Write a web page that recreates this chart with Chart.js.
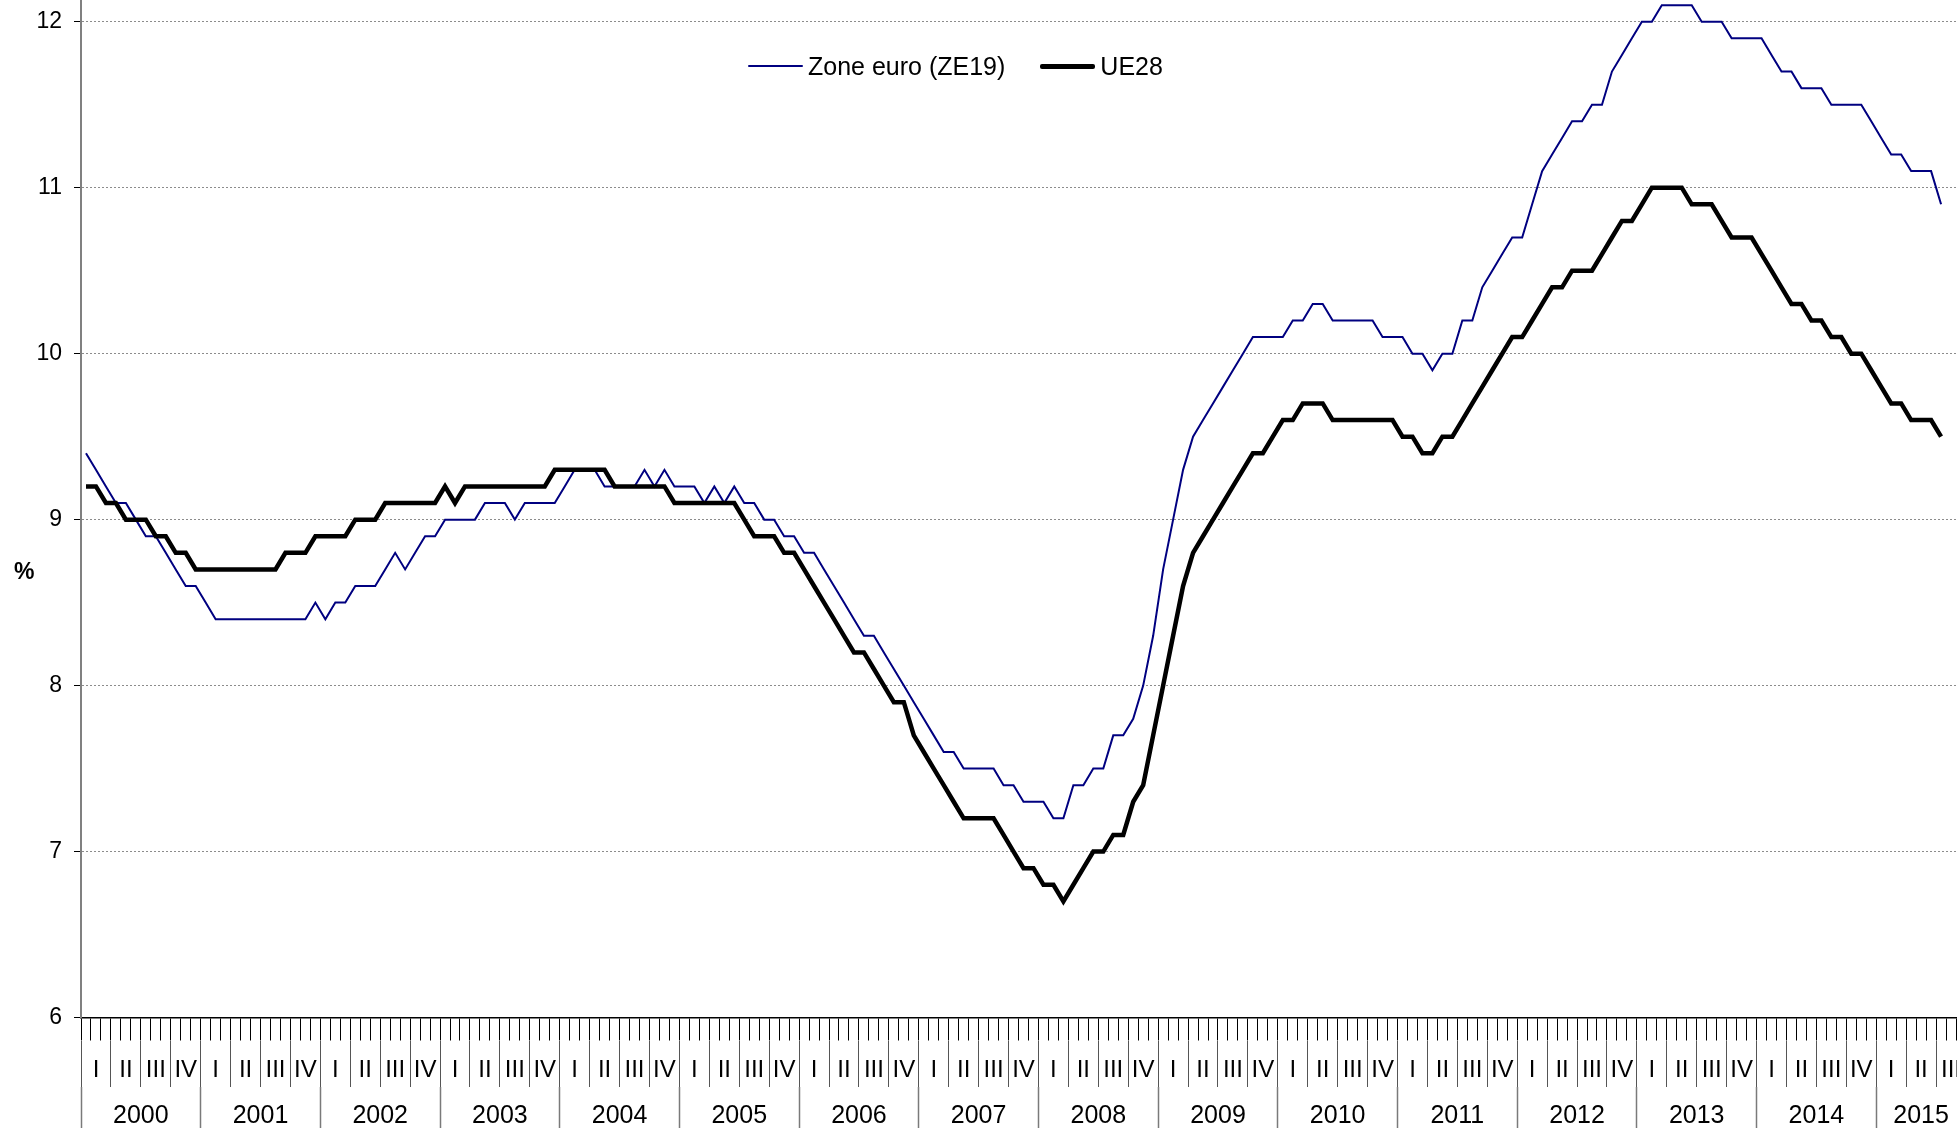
<!DOCTYPE html>
<html lang="fr">
<head>
<meta charset="utf-8">
<title>Taux de chômage ZE19 / UE28</title>
<script src="https://cdn.jsdelivr.net/npm/chart.js@4.4.1/dist/chart.umd.min.js"></script>
<style>
    html, body { margin: 0; padding: 0; background: #fff; }
    body {
        width: 1957px; height: 1128px; overflow: hidden; position: relative;
        font-family: "Liberation Sans", Arial, sans-serif; color: #000;
    }
    #chart { position: absolute; left: 0; top: -165px; }
    #unit { position: absolute; left: 14px; top: 558px; font-weight: bold; font-size: 23px; }
    #legend {
        position: absolute; left: 748px; top: 51px; display: flex; align-items: center;
        font-size: 25px; line-height: 30px; white-space: nowrap;
    }
    #legend .item { display: flex; align-items: center; margin-right: 35px; }
    #legend .swatch { width: 55px; margin-right: 5px; border-radius: 2px; }
</style>
</head>
<body>
<canvas id="chart" width="1971" height="1317"></canvas>
<div id="unit">%</div>
<div id="legend"></div>
<script>
const years = ['2000', '2001', '2002', '2003', '2004', '2005', '2006', '2007',
    '2008', '2009', '2010', '2011', '2012', '2013', '2014', '2015'];
const quarters = ['I', 'II', 'III', 'IV'];
const monthsInLastYear = 9; // axis runs to Sep 2015
const yRange = [6, 13];

// Zone euro (ZE19), monthly, Jan 2000 - Jul 2015
const ze19 = [
    9.4, 9.3, 9.2, 9.1, 9.1, 9.0, 8.9, 8.9, 8.8, 8.7, 8.6, 8.6,
    8.5, 8.4, 8.4, 8.4, 8.4, 8.4, 8.4, 8.4, 8.4, 8.4, 8.4, 8.5,
    8.4, 8.5, 8.5, 8.6, 8.6, 8.6, 8.7, 8.8, 8.7, 8.8, 8.9, 8.9,
    9.0, 9.0, 9.0, 9.0, 9.1, 9.1, 9.1, 9.0, 9.1, 9.1, 9.1, 9.1,
    9.2, 9.3, 9.3, 9.3, 9.2, 9.2, 9.2, 9.2, 9.3, 9.2, 9.3, 9.2,
    9.2, 9.2, 9.1, 9.2, 9.1, 9.2, 9.1, 9.1, 9.0, 9.0, 8.9, 8.9,
    8.8, 8.8, 8.7, 8.6, 8.5, 8.4, 8.3, 8.3, 8.2, 8.1, 8.0, 7.9,
    7.8, 7.7, 7.6, 7.6, 7.5, 7.5, 7.5, 7.5, 7.4, 7.4, 7.3, 7.3,
    7.3, 7.2, 7.2, 7.4, 7.4, 7.5, 7.5, 7.7, 7.7, 7.8, 8.0, 8.3,
    8.7, 9.0, 9.3, 9.5, 9.6, 9.7, 9.8, 9.9, 10.0, 10.1, 10.1, 10.1,
    10.1, 10.2, 10.2, 10.3, 10.3, 10.2, 10.2, 10.2, 10.2, 10.2, 10.1, 10.1,
    10.1, 10.0, 10.0, 9.9, 10.0, 10.0, 10.2, 10.2, 10.4, 10.5, 10.6, 10.7,
    10.7, 10.9, 11.1, 11.2, 11.3, 11.4, 11.4, 11.5, 11.5, 11.7, 11.8, 11.9,
    12.0, 12.0, 12.1, 12.1, 12.1, 12.1, 12.0, 12.0, 12.0, 11.9, 11.9, 11.9,
    11.9, 11.8, 11.7, 11.7, 11.6, 11.6, 11.6, 11.5, 11.5, 11.5, 11.5, 11.4,
    11.3, 11.2, 11.2, 11.1, 11.1, 11.1, 10.9
];

// UE28, monthly, Jan 2000 - Jul 2015
const ue28 = [
    9.2, 9.2, 9.1, 9.1, 9.0, 9.0, 9.0, 8.9, 8.9, 8.8, 8.8, 8.7,
    8.7, 8.7, 8.7, 8.7, 8.7, 8.7, 8.7, 8.7, 8.8, 8.8, 8.8, 8.9,
    8.9, 8.9, 8.9, 9.0, 9.0, 9.0, 9.1, 9.1, 9.1, 9.1, 9.1, 9.1,
    9.2, 9.1, 9.2, 9.2, 9.2, 9.2, 9.2, 9.2, 9.2, 9.2, 9.2, 9.3,
    9.3, 9.3, 9.3, 9.3, 9.3, 9.2, 9.2, 9.2, 9.2, 9.2, 9.2, 9.1,
    9.1, 9.1, 9.1, 9.1, 9.1, 9.1, 9.0, 8.9, 8.9, 8.9, 8.8, 8.8,
    8.7, 8.6, 8.5, 8.4, 8.3, 8.2, 8.2, 8.1, 8.0, 7.9, 7.9, 7.7,
    7.6, 7.5, 7.4, 7.3, 7.2, 7.2, 7.2, 7.2, 7.1, 7.0, 6.9, 6.9,
    6.8, 6.8, 6.7, 6.8, 6.9, 7.0, 7.0, 7.1, 7.1, 7.3, 7.4, 7.7,
    8.0, 8.3, 8.6, 8.8, 8.9, 9.0, 9.1, 9.2, 9.3, 9.4, 9.4, 9.5,
    9.6, 9.6, 9.7, 9.7, 9.7, 9.6, 9.6, 9.6, 9.6, 9.6, 9.6, 9.6,
    9.5, 9.5, 9.4, 9.4, 9.5, 9.5, 9.6, 9.7, 9.8, 9.9, 10.0, 10.1,
    10.1, 10.2, 10.3, 10.4, 10.4, 10.5, 10.5, 10.5, 10.6, 10.7, 10.8, 10.8,
    10.9, 11.0, 11.0, 11.0, 11.0, 10.9, 10.9, 10.9, 10.8, 10.7, 10.7, 10.7,
    10.6, 10.5, 10.4, 10.3, 10.3, 10.2, 10.2, 10.1, 10.1, 10.0, 10.0, 9.9,
    9.8, 9.7, 9.7, 9.6, 9.6, 9.6, 9.5
];

const monthsOf = (i) => (i === years.length - 1 ? monthsInLastYear : 12);
const monthLabels = years.flatMap((y, i) =>
    Array.from({ length: monthsOf(i) }, (_, m) => y + '-' + String(m + 1).padStart(2, '0')));
const quarterLabels = years.flatMap((y, i) => quarters.slice(0, monthsOf(i) / 3));
const totalMonths = monthLabels.length;

// year axis: boundaries get the long separator, centres get the label
const yearTicks = [];
years.forEach((y, i) => {
    yearTicks.push({ value: i * 12, label: '' });
    yearTicks.push({ value: i * 12 + monthsOf(i) / 2, label: y });
});
yearTicks.push({ value: totalMonths, label: '' });

const font = '"Liberation Sans", Arial, sans-serif';

const chart = new Chart(document.getElementById('chart'), {
    type: 'line',
    data: {
        labels: monthLabels,
        datasets: [
            {
                label: 'Zone euro (ZE19)',
                data: ze19,
                borderColor: '#000080',
                borderWidth: 2,
                pointRadius: 0,
                tension: 0,
                order: 1,
                xAxisID: 'x',
                yAxisID: 'y',
            },
            {
                label: 'UE28',
                data: ue28,
                borderColor: '#000000',
                borderWidth: 4.5,
                pointRadius: 0,
                tension: 0,
                order: 0,
                xAxisID: 'x',
                yAxisID: 'y',
            },
        ],
    },
    options: {
        responsive: false,
        animation: false,
        events: [],
        layout: { padding: { top: 20, right: 5, left: 0, bottom: 0 } },
        plugins: { legend: { display: false }, tooltip: { enabled: false } },
        scales: {
            x: {
                type: 'category',
                position: 'bottom',
                weight: 0,
                offset: true,
                grid: { offset: true, drawOnChartArea: false, tickLength: 23, tickColor: '#000', tickWidth: 1 },
                border: { color: '#000', width: 1.5 },
                ticks: { display: false, autoSkip: false, maxRotation: 0, minRotation: 0 },
                afterFit: (s) => { s.height = 23; },
            },
            xQuarter: {
                type: 'category',
                labels: quarterLabels,
                position: 'bottom',
                weight: 1,
                offset: true,
                grid: { offset: true, drawOnChartArea: false, tickLength: 46.5, tickColor: '#555', tickWidth: 1 },
                border: { display: false },
                ticks: {
                    autoSkip: false, maxRotation: 0, minRotation: 0, padding: -31,
                    color: '#000', font: { family: font, size: 24 },
                },
                afterFit: (s) => { s.height = 46.5; },
            },
            xYear: {
                type: 'linear',
                position: 'bottom',
                weight: 2,
                min: 0,
                max: totalMonths,
                afterBuildTicks: (s) => { s.ticks = yearTicks.map((t) => ({ value: t.value })); },
                grid: {
                    drawOnChartArea: false,
                    tickLength: 60,
                    tickWidth: 1.5,
                    tickColor: (c) => (c.tick && c.tick.value % 12 === 0 || c.tick && c.tick.value === totalMonths
                        ? '#7a7a7a' : 'rgba(0,0,0,0)'),
                },
                border: { display: false },
                ticks: {
                    autoSkip: false, maxRotation: 0, minRotation: 0, padding: -46,
                    color: '#000', font: { family: font, size: 25 },
                    callback: (v) => {
                        const t = yearTicks.find((k) => k.value === v);
                        return t ? t.label : '';
                    },
                },
                afterFit: (s) => { s.height = 60; },
            },
            y: {
                min: yRange[0],
                max: yRange[1],
                ticks: { stepSize: 1, padding: 12, color: '#000', font: { family: font, size: 23 } },
                grid: { color: '#8c8c8c', lineWidth: 1, tickLength: 7, tickColor: '#000', tickWidth: 1 },
                border: { color: '#808080', width: 2, dash: [2, 2] },
                afterFit: (s) => { s.width = 81; },
            },
        },
    },
});

// place the canvas so the plot lines up with the page frame
const cv = document.getElementById('chart');
cv.style.left = (80.8 - chart.chartArea.left) + 'px';
cv.style.top = (21.3 - chart.scales.y.getPixelForValue(12)) + 'px';

// legend built from the datasets
const legend = document.getElementById('legend');
chart.data.datasets.forEach((ds) => {
    const item = document.createElement('div');
    item.className = 'item';
    const sw = document.createElement('span');
    sw.className = 'swatch';
    sw.style.height = Math.round(ds.borderWidth) + 'px';
    sw.style.background = ds.borderColor;
    const txt = document.createElement('span');
    txt.textContent = ds.label;
    item.appendChild(sw);
    item.appendChild(txt);
    legend.appendChild(item);
});
</script>
</body>
</html>
